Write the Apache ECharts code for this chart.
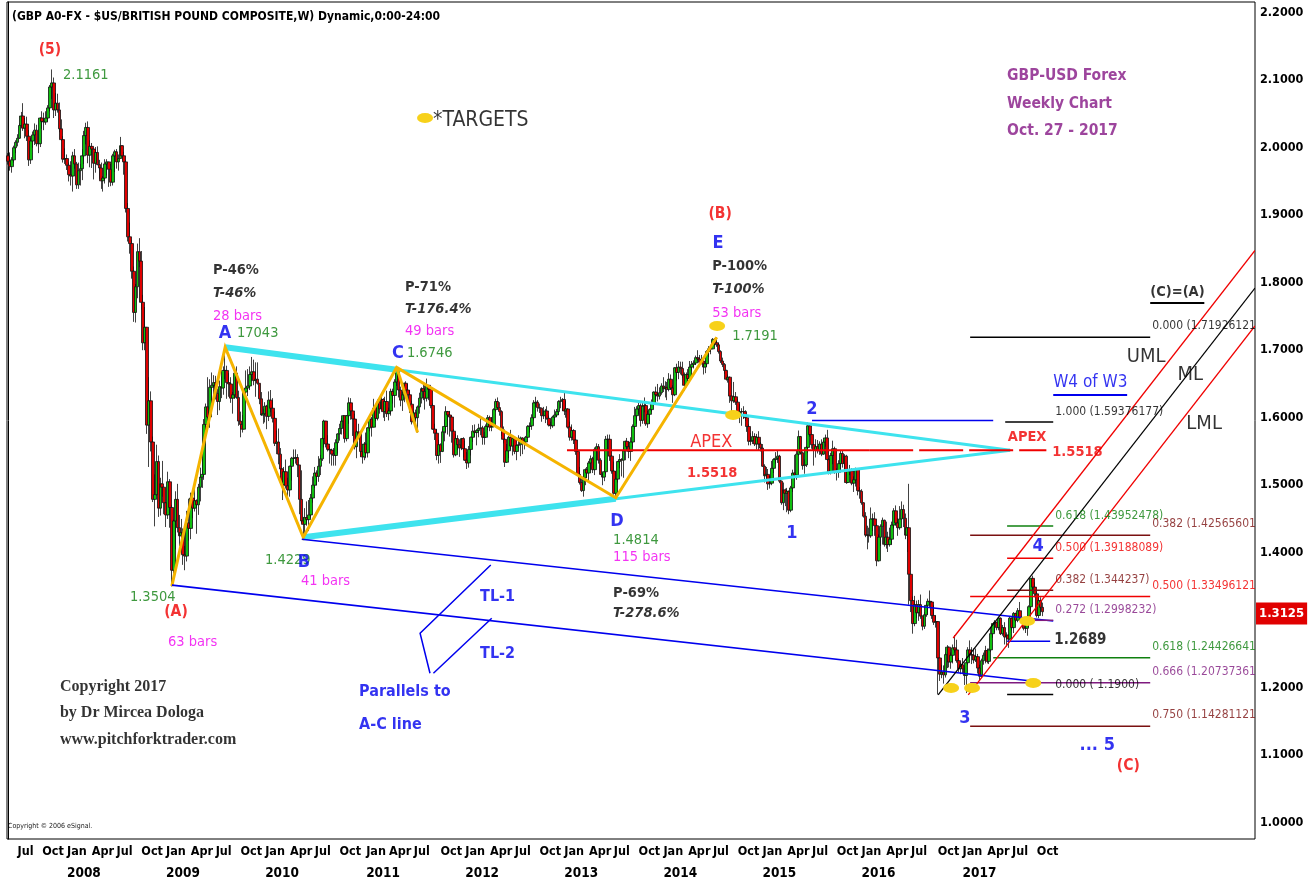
<!DOCTYPE html>
<html>
<head>
<meta charset="utf-8">
<script src="https://cdn.jsdelivr.net/npm/echarts@6/dist/echarts.min.js"></script>
<style>
html, body { margin: 0; padding: 0; background: #fff; }
#main { width: 1308px; height: 884px; }
</style>
</head>
<body>
<div id="main"></div>
<script>
// weekly GBP/USD bars: [close, high, low], open = previous close
var firstOpen = 1.988;
var wk2007 = [
 [1.980,1.992,1.975],[1.972,1.993,1.966],[1.982,1.986,1.963],[2.000,2.003,1.978],[2.008,2.011,1.992],
 [2.014,2.020,2.002],[2.033,2.036,2.013],[2.047,2.053,2.030],[2.029,2.066,2.025],
 [2.035,2.044,2.014],[2.017,2.046,2.010],[1.982,2.026,1.973],[2.010,2.014,1.976],[2.019,2.024,2.000],
 [2.026,2.036,2.004],[2.006,2.034,2.002],[2.006,2.027,1.992],[2.044,2.045,2.001],
 [2.039,2.054,2.028],[2.038,2.052,2.026],[2.044,2.054,2.034],[2.059,2.063,2.039],
 [2.090,2.093,2.054],[2.096,2.116,2.072],[2.056,2.104,2.044],[2.066,2.081,2.047],[2.056,2.080,2.052],
 [2.028,2.067,2.023],[2.012,2.042,2.010],[1.983,2.017,1.978],[1.984,1.999,1.976]
];
var wk2008 = [
 [1.974,1.990,1.967],[1.960,1.978,1.950],[1.958,1.980,1.944],[1.988,1.994,1.935],
 [1.976,1.998,1.969],[1.945,1.979,1.939],[1.966,1.978,1.939],[1.969,1.976,1.944],[1.988,1.998,1.952],
 [2.018,2.025,1.976],[2.030,2.037,2.005],[1.989,2.039,1.977],[2.002,2.011,1.971],
 [1.998,2.007,1.970],[1.977,1.993,1.953],[1.993,2.001,1.963],[1.975,2.002,1.974],
 [1.970,1.982,1.954],[1.951,1.978,1.939],[1.955,1.958,1.935],[1.976,1.983,1.947],[1.979,1.983,1.959],
 [1.968,1.976,1.942],[1.949,1.976,1.943],[1.988,1.991,1.944],[1.994,1.997,1.964],
 [1.979,1.998,1.969],[1.984,1.990,1.966],[2.003,2.016,1.984],[1.988,2.004,1.981],
 [1.979,1.994,1.960],[1.910,1.982,1.904],[1.868,1.918,1.861],[1.858,1.889,1.843],[1.817,1.863,1.806],
 [1.756,1.824,1.742],[1.794,1.798,1.741],[1.846,1.858,1.777],[1.832,1.866,1.823],
 [1.771,1.847,1.760],[1.711,1.782,1.700],[1.734,1.764,1.700],[1.589,1.731,1.576],[1.625,1.660,1.527],
 [1.564,1.639,1.550],[1.479,1.572,1.475],[1.486,1.516,1.439],[1.535,1.560,1.485],
 [1.466,1.544,1.453],[1.502,1.511,1.455],[1.497,1.536,1.483],[1.474,1.495,1.457]
];
var wk2009 = [
 [1.456,1.475,1.438],[1.505,1.520,1.450],[1.467,1.509,1.437],[1.374,1.471,1.350],[1.447,1.449,1.369],
 [1.479,1.491,1.405],[1.437,1.502,1.430],[1.425,1.456,1.410],[1.430,1.450,1.403],
 [1.397,1.436,1.382],[1.395,1.410,1.374],[1.444,1.462,1.387],[1.436,1.480,1.418],
 [1.481,1.489,1.420],[1.466,1.486,1.451],[1.477,1.508,1.461],[1.471,1.479,1.428],
 [1.497,1.502,1.456],[1.512,1.526,1.476],[1.516,1.539,1.496],[1.590,1.598,1.508],[1.616,1.621,1.573],
 [1.601,1.660,1.590],[1.645,1.657,1.585],[1.648,1.667,1.617],[1.652,1.663,1.623],
 [1.636,1.662,1.627],[1.624,1.643,1.604],[1.646,1.655,1.611],[1.644,1.661,1.629],[1.670,1.676,1.634],
 [1.670,1.704,1.657],[1.652,1.677,1.628],[1.650,1.666,1.631],[1.629,1.660,1.622],
 [1.634,1.638,1.606],[1.666,1.672,1.628],[1.630,1.676,1.628],[1.595,1.640,1.588],
 [1.590,1.609,1.571],[1.583,1.604,1.578],[1.638,1.640,1.583],[1.644,1.670,1.635],[1.647,1.672,1.632],
 [1.664,1.676,1.641],[1.668,1.690,1.654],[1.655,1.686,1.648],[1.657,1.682,1.631],
 [1.651,1.682,1.649],[1.628,1.650,1.620],[1.604,1.638,1.603],[1.606,1.613,1.591]
];
var wk2010 = [
 [1.617,1.623,1.593],[1.602,1.619,1.583],[1.626,1.639,1.595],[1.614,1.641,1.608],[1.599,1.629,1.593],
 [1.562,1.609,1.558],[1.564,1.581,1.546],[1.546,1.584,1.531],[1.524,1.555,1.516],
 [1.501,1.525,1.478],[1.520,1.527,1.490],[1.499,1.538,1.495],[1.493,1.511,1.483],
 [1.528,1.529,1.483],[1.540,1.542,1.507],[1.540,1.553,1.531],[1.541,1.553,1.532],[1.530,1.546,1.512],
 [1.479,1.530,1.457],[1.447,1.522,1.444],[1.442,1.453,1.423],[1.452,1.466,1.425],
 [1.449,1.476,1.440],[1.456,1.478,1.432],[1.481,1.487,1.452],[1.500,1.513,1.474],
 [1.518,1.527,1.496],[1.513,1.522,1.500],[1.528,1.543,1.505],[1.539,1.545,1.515],[1.569,1.571,1.536],
 [1.595,1.597,1.556],[1.561,1.594,1.556],[1.553,1.574,1.550],[1.552,1.558,1.532],
 [1.546,1.554,1.529],[1.544,1.555,1.529],[1.563,1.568,1.529],[1.576,1.577,1.547],
 [1.584,1.591,1.566],[1.595,1.600,1.575],[1.603,1.604,1.576],[1.569,1.600,1.563],[1.603,1.604,1.565],
 [1.622,1.630,1.591],[1.610,1.629,1.597],[1.598,1.610,1.573],[1.557,1.606,1.553],
 [1.579,1.581,1.540],[1.577,1.591,1.569],[1.550,1.578,1.542],[1.542,1.551,1.532],[1.561,1.564,1.537]
];
var wk2011 = [
 [1.548,1.578,1.540],[1.585,1.586,1.541],[1.598,1.604,1.580],[1.586,1.601,1.572],
 [1.614,1.628,1.586],[1.599,1.616,1.595],[1.623,1.627,1.596],[1.613,1.628,1.606],
 [1.627,1.635,1.612],[1.609,1.629,1.600],[1.624,1.631,1.595],[1.606,1.640,1.601],
 [1.610,1.615,1.596],[1.639,1.643,1.603],[1.633,1.643,1.621],[1.653,1.657,1.615],[1.669,1.675,1.647],
 [1.641,1.673,1.630],[1.626,1.646,1.617],[1.634,1.638,1.610],[1.651,1.652,1.623],
 [1.641,1.654,1.632],[1.634,1.650,1.627],[1.620,1.641,1.607],[1.594,1.625,1.590],
 [1.607,1.610,1.594],[1.600,1.612,1.593],[1.616,1.618,1.578],[1.629,1.637,1.606],[1.643,1.645,1.621],
 [1.639,1.651,1.626],[1.629,1.648,1.612],[1.648,1.658,1.624],[1.642,1.648,1.626],
 [1.618,1.642,1.614],[1.583,1.621,1.582],[1.577,1.591,1.567],[1.544,1.583,1.537],[1.560,1.567,1.532],
 [1.550,1.562,1.533],[1.579,1.584,1.549],[1.587,1.597,1.565],[1.609,1.617,1.577],
 [1.604,1.610,1.575],[1.601,1.610,1.572],[1.580,1.603,1.563],[1.545,1.583,1.541],
 [1.569,1.576,1.543],[1.560,1.574,1.552],[1.555,1.568,1.542],[1.569,1.570,1.552],[1.554,1.571,1.541]
];
var wk2012 = [
 [1.537,1.566,1.536],[1.533,1.549,1.524],[1.553,1.558,1.526],[1.571,1.572,1.544],
 [1.580,1.589,1.564],[1.578,1.590,1.572],[1.581,1.583,1.559],[1.584,1.591,1.571],
 [1.585,1.600,1.574],[1.571,1.588,1.560],[1.571,1.579,1.560],[1.587,1.590,1.570],[1.600,1.604,1.582],
 [1.586,1.603,1.580],[1.587,1.601,1.580],[1.612,1.614,1.587],[1.624,1.628,1.609],
 [1.615,1.630,1.612],[1.609,1.623,1.603],[1.582,1.611,1.573],[1.568,1.587,1.562],
 [1.534,1.569,1.527],[1.551,1.561,1.533],[1.571,1.573,1.540],[1.558,1.582,1.553],[1.569,1.572,1.544],
 [1.550,1.572,1.546],[1.559,1.560,1.537],[1.560,1.574,1.555],[1.570,1.572,1.543],
 [1.563,1.571,1.546],[1.564,1.569,1.553],[1.571,1.573,1.561],[1.587,1.589,1.570],[1.588,1.593,1.578],
 [1.600,1.605,1.582],[1.622,1.626,1.596],[1.623,1.631,1.616],[1.615,1.626,1.609],
 [1.614,1.621,1.607],[1.603,1.615,1.594],[1.603,1.616,1.598],[1.610,1.613,1.592],
 [1.599,1.617,1.597],[1.589,1.603,1.587],[1.588,1.594,1.583],[1.601,1.603,1.585],[1.604,1.612,1.596],
 [1.609,1.613,1.601],[1.624,1.626,1.604],[1.625,1.631,1.614],[1.627,1.629,1.610]
];
var wk2013 = [
 [1.610,1.638,1.604],[1.613,1.625,1.600],[1.586,1.614,1.584],[1.571,1.594,1.566],
 [1.581,1.590,1.566],[1.567,1.583,1.561],[1.550,1.568,1.545],[1.516,1.553,1.514],
 [1.504,1.527,1.501],[1.492,1.512,1.490],[1.511,1.513,1.483],[1.523,1.525,1.500],[1.518,1.527,1.511],
 [1.533,1.536,1.504],[1.539,1.544,1.522],[1.523,1.542,1.518],[1.553,1.556,1.515],
 [1.557,1.562,1.537],[1.537,1.561,1.532],[1.516,1.540,1.515],[1.512,1.518,1.500],[1.520,1.537,1.506],
 [1.568,1.573,1.516],[1.568,1.575,1.551],[1.543,1.575,1.536],[1.521,1.545,1.517],
 [1.488,1.535,1.486],[1.509,1.521,1.481],[1.535,1.536,1.504],[1.538,1.546,1.525],
 [1.537,1.540,1.513],[1.551,1.556,1.511],[1.565,1.566,1.537],[1.557,1.570,1.550],[1.550,1.565,1.540],
 [1.564,1.571,1.536],[1.587,1.590,1.556],[1.603,1.616,1.583],[1.613,1.617,1.591],
 [1.618,1.626,1.605],[1.596,1.621,1.587],[1.617,1.624,1.591],[1.618,1.630,1.608],
 [1.591,1.621,1.588],[1.605,1.610,1.585],[1.612,1.614,1.591],[1.622,1.627,1.609],[1.638,1.639,1.619],
 [1.634,1.646,1.626],[1.632,1.650,1.624],[1.637,1.645,1.627],[1.647,1.651,1.634]
];
var wk2014 = [
 [1.643,1.660,1.638],[1.645,1.654,1.630],[1.642,1.653,1.626],[1.657,1.666,1.639],[1.644,1.664,1.641],
 [1.634,1.648,1.622],[1.674,1.675,1.632],[1.667,1.680,1.655],[1.675,1.684,1.657],
 [1.673,1.683,1.664],[1.663,1.683,1.659],[1.648,1.667,1.640],[1.664,1.667,1.645],
 [1.658,1.672,1.654],[1.675,1.684,1.655],[1.679,1.684,1.670],[1.681,1.685,1.673],
 [1.689,1.692,1.678],[1.687,1.700,1.685],[1.682,1.693,1.675],[1.684,1.693,1.679],[1.675,1.686,1.664],
 [1.680,1.685,1.666],[1.698,1.700,1.675],[1.702,1.706,1.690],[1.702,1.708,1.694],
 [1.716,1.718,1.702],[1.711,1.718,1.707],[1.708,1.719,1.705],[1.698,1.711,1.695],
 [1.684,1.700,1.681],[1.679,1.689,1.675],[1.670,1.681,1.665],[1.657,1.671,1.655],[1.660,1.664,1.652],
 [1.632,1.661,1.622],[1.625,1.628,1.605],[1.631,1.653,1.622],[1.623,1.638,1.619],
 [1.603,1.628,1.600],[1.609,1.620,1.592],[1.609,1.614,1.588],[1.609,1.617,1.598],[1.600,1.611,1.595],
 [1.587,1.602,1.579],[1.565,1.590,1.559],[1.566,1.577,1.559],[1.572,1.580,1.561],
 [1.561,1.577,1.558],[1.571,1.576,1.553],[1.561,1.580,1.551],[1.555,1.564,1.550]
];
var wk2015 = [
 [1.528,1.561,1.527],[1.514,1.531,1.504],[1.516,1.527,1.509],[1.502,1.524,1.493],[1.503,1.514,1.495],
 [1.525,1.536,1.500],[1.538,1.540,1.518],[1.540,1.549,1.532],[1.543,1.552,1.533],
 [1.506,1.545,1.503],[1.474,1.507,1.471],[1.493,1.504,1.463],[1.488,1.495,1.469],
 [1.491,1.496,1.460],[1.463,1.492,1.457],[1.496,1.499,1.460],[1.518,1.523,1.490],
 [1.515,1.545,1.509],[1.546,1.552,1.508],[1.572,1.581,1.544],[1.548,1.573,1.546],[1.529,1.550,1.523],
 [1.530,1.538,1.517],[1.556,1.558,1.527],[1.588,1.593,1.548],[1.575,1.591,1.572],
 [1.560,1.576,1.554],[1.552,1.561,1.529],[1.557,1.568,1.541],[1.551,1.567,1.547],[1.561,1.565,1.545],
 [1.546,1.568,1.543],[1.564,1.567,1.545],[1.570,1.575,1.557],[1.538,1.582,1.536],
 [1.519,1.540,1.516],[1.544,1.548,1.516],[1.554,1.566,1.531],[1.520,1.557,1.517],
 [1.519,1.525,1.507],[1.532,1.537,1.511],[1.547,1.551,1.521],[1.532,1.551,1.526],[1.543,1.546,1.522],
 [1.504,1.545,1.502],[1.521,1.525,1.503],[1.521,1.530,1.515],[1.503,1.525,1.500],
 [1.508,1.513,1.490],[1.523,1.526,1.498],[1.492,1.523,1.485],[1.491,1.497,1.480]
];
var wk2016 = [
 [1.474,1.494,1.471],[1.454,1.475,1.452],[1.426,1.460,1.423],[1.426,1.440,1.405],[1.425,1.437,1.415],
 [1.450,1.467,1.422],[1.450,1.458,1.432],[1.440,1.460,1.425],[1.388,1.442,1.380],
 [1.423,1.427,1.387],[1.439,1.442,1.410],[1.448,1.452,1.412],[1.412,1.449,1.409],
 [1.423,1.446,1.406],[1.412,1.431,1.401],[1.420,1.437,1.409],[1.441,1.446,1.412],[1.462,1.466,1.436],
 [1.444,1.470,1.440],[1.437,1.451,1.425],[1.450,1.469,1.434],[1.464,1.476,1.451],
 [1.451,1.471,1.438],[1.426,1.458,1.420],[1.437,1.438,1.401],[1.368,1.502,1.323],
 [1.329,1.356,1.312],[1.295,1.335,1.280],[1.323,1.336,1.291],[1.311,1.329,1.303],[1.323,1.330,1.299],
 [1.306,1.338,1.302],[1.291,1.307,1.285],[1.308,1.312,1.287],[1.322,1.326,1.305],
 [1.328,1.332,1.308],[1.327,1.344,1.319],[1.307,1.328,1.302],[1.297,1.322,1.293],[1.298,1.307,1.289],
 [1.244,1.292,1.190],[1.220,1.237,1.210],[1.223,1.234,1.214],[1.219,1.233,1.206],
 [1.249,1.252,1.215],[1.260,1.263,1.229],[1.238,1.261,1.230],[1.248,1.252,1.228],
 [1.259,1.264,1.236],[1.256,1.278,1.252],[1.240,1.271,1.237],[1.228,1.244,1.223],[1.234,1.237,1.220]
];
var wk2017 = [
 [1.228,1.244,1.220],[1.218,1.233,1.204],[1.237,1.245,1.192],[1.256,1.260,1.234],
 [1.249,1.270,1.244],[1.248,1.260,1.235],[1.241,1.258,1.236],[1.246,1.258,1.238],
 [1.229,1.250,1.221],[1.217,1.234,1.211],[1.240,1.243,1.215],[1.248,1.252,1.234],[1.255,1.262,1.236],
 [1.239,1.258,1.236],[1.256,1.258,1.235],[1.280,1.290,1.253],[1.295,1.295,1.274],
 [1.297,1.300,1.282],[1.289,1.297,1.285],[1.303,1.305,1.285],[1.280,1.304,1.278],
 [1.289,1.293,1.277],[1.275,1.297,1.264],[1.278,1.282,1.261],[1.272,1.279,1.259],[1.303,1.305,1.271],
 [1.289,1.304,1.285],[1.310,1.312,1.281],[1.300,1.311,1.297],[1.314,1.318,1.297],
 [1.304,1.327,1.303],[1.301,1.305,1.295],[1.288,1.302,1.285],[1.288,1.291,1.281],
 [1.296,1.298,1.277],[1.320,1.322,1.290],[1.362,1.362,1.313],[1.349,1.366,1.343],[1.339,1.356,1.334],
 [1.307,1.342,1.304],[1.329,1.334,1.303],[1.319,1.334,1.312],[1.3125,1.326,1.306]
];

// swing points (week index, price): (A), A, B, C, D, E
var swingIdx = [86, 114, 155, 204, 319, 372];
var swingPrice = [1.3504, 1.7043, 1.4229, 1.6746, 1.4814, 1.7191];
var apexIdx = 526, apexPrice = 1.5518;

// fibonacci levels
var fibNearRatio = ['1.000', '0.618', '0.500', '0.382', '0.272', '0.000'];
var fibNearPrice = ['1.59376177', '1.43952478', '1.39188089', '1.344237', '1.2998232', ' 1.1900'];
var fibFarRatio = ['0.000', '0.382', '0.500', '0.618', '0.666', '0.750'];
var fibFarPrice = ['1.71926121', '1.42565601', '1.33496121', '1.24426641', '1.20737361', '1.14281121'];

var yTicks = [1.0, 1.1, 1.2, 1.3, 1.4, 1.5, 1.6, 1.7, 1.8, 1.9, 2.0, 2.1, 2.2];

var NARROW = "'DejaVu Sans Condensed','Liberation Sans',sans-serif";
var SERIF = "'Liberation Serif','Times New Roman',serif";
var RED = '#F00000', BLUE = '#0000EE', GREEN = '#0F800F', MAG = '#F000F0', DRED = '#7A1010', PURP = '#7F1A7F';

var bars = [].concat(wk2007, wk2008, wk2009, wk2010, wk2011, wk2012, wk2013, wk2014, wk2015, wk2016, wk2017);
var nBars = bars.length;
var nSlots = 655; // axis also has empty weeks to the right
var candles = [];
var prev = firstOpen;
for (var i = 0; i < nBars; i++) {
    var c = bars[i][0];
    candles.push([i, prev, c, Math.min(bars[i][2], prev, c), Math.max(bars[i][1], prev, c)]);
    prev = c;
}
var lastClose = bars[nBars - 1][0];

// quarter labels at the first week of Jan/Apr/Jul/Oct
var MONTHS = ['Jan','Feb','Mar','Apr','May','Jun','Jul','Aug','Sep','Oct','Nov','Dec'];
var startMs = Date.UTC(2007, 4, 28);
var monthTicks = [], monthText = {}, yearTicks = [], yearText = {};
var prevMonth = -1;
for (var k = 0; k < nBars; k++) {
    var d = new Date(startMs + (k * 7 + 4) * 86400000);
    var m = d.getUTCMonth();
    if (prevMonth !== -1 && m !== prevMonth && m % 3 === 0) {
        monthTicks.push(k); monthText[k] = MONTHS[m];
        if (m === 0) { yearTicks.push(k); yearText[k] = String(d.getUTCFullYear()); }
    }
    prevMonth = m;
}

// lines
function seg(pts, color, width, type) {
    return { coords: pts, lineStyle: { color: color, width: width, type: type || 'solid' } };
}
var lineData = [];
// cyan triangle
var upC = swingPrice[1] + (apexPrice - swingPrice[1]) * (swingIdx[3] - swingIdx[1]) / (apexIdx - swingIdx[1]);
var loD = swingPrice[2] + (apexPrice - swingPrice[2]) * (swingIdx[4] - swingIdx[2]) / (apexIdx - swingIdx[2]);
lineData.push(seg([[swingIdx[1], swingPrice[1]], [apexIdx, apexPrice]], '#3EE3EE', 3));
lineData.push(seg([[swingIdx[1], swingPrice[1]], [swingIdx[3], upC]], '#3EE3EE', 6));
lineData.push(seg([[swingIdx[2], swingPrice[2]], [apexIdx, apexPrice]], '#3EE3EE', 3));
lineData.push(seg([[swingIdx[2], swingPrice[2]], [swingIdx[4], loD]], '#3EE3EE', 6));
// apex level
lineData.push(seg([[293.4, apexPrice], [452, apexPrice]], RED, 2));
lineData.push(seg([[452, apexPrice], [545, apexPrice]], RED, 2, [44, 6]));
// orange zigzag
var zz = [];
for (var z = 0; z < swingIdx.length; z++) zz.push([swingIdx[z], swingPrice[z]]);
lineData.push(seg(zz, '#F5B400', 3));
lineData.push(seg([[swingIdx[3], swingPrice[3]], [215, 1.578]], '#F5B400', 3));
// trend lines TL-1, TL-2 and bracket
lineData.push(seg([[154.2, 1.4199], [548.6, 1.2988]], BLUE, 1.6));
lineData.push(seg([[86.1, 1.352], [541.9, 1.2084]], BLUE, 1.6));
lineData.push(seg([[253.4, 1.3818], [216.3, 1.2806], [221.5, 1.2213]], BLUE, 1.5));
lineData.push(seg([[223.3, 1.2213], [253.9, 1.3028]], BLUE, 1.5));
// wave 2 level, 1.2689 level
lineData.push(seg([[422, 1.596], [517.1, 1.596]], BLUE, 1.5));
lineData.push(seg([[524.4, 1.2689], [547.0, 1.2689]], BLUE, 1.5));
// fib lines
var fibNearColor = ['#000', GREEN, RED, DRED, PURP, '#000'];
var fibNearFrom = [523.4, 524.4, 524.4, 524.4, 536.5, 524.4];
var fibFarColor = ['#000', DRED, RED, GREEN, PURP, DRED];
var fibFarFrom = [505, 505, 505, 517.1, 505, 505];
for (var f = 0; f < 6; f++) {
    lineData.push(seg([[fibNearFrom[f], parseFloat(fibNearPrice[f])], [548.6, parseFloat(fibNearPrice[f])]], fibNearColor[f], 1.5));
    lineData.push(seg([[fibFarFrom[f], parseFloat(fibFarPrice[f])], [599.5, parseFloat(fibFarPrice[f])]], fibFarColor[f], 1.5));
}
// pitchfork
lineData.push(seg([[488.2, 1.1892], [654.5, 1.7921]], '#000', 1.3));
lineData.push(seg([[496.1, 1.2736], [654.5, 1.8478]], RED, 1.3));
lineData.push(seg([[504.0, 1.1892], [654.5, 1.7359]], RED, 1.3));
// underlines
lineData.push(seg([[599.5, 1.7699], [627.9, 1.7699]], '#000', 2));
lineData.push(seg([[548.6, 1.6336], [587.4, 1.6336]], BLUE, 2));

// yellow target marks
var targets = [[218.9, 2.044], [372.2, 1.7359], [380.6, 1.604], [495.0, 1.1996], [506.0, 1.1996], [538.1, 1.207], [534.9, 1.2988]];

// text notes: [week index, price, text, style, align]
var ST = {
    wave: { color: RED, fontSize: 15.5, fontWeight: 'bold' },
    letter: { color: BLUE, fontSize: 18, fontWeight: 'bold' },
    green: { color: GREEN, fontSize: 14.5 },
    bars: { color: MAG, fontSize: 14.5 },
    pct: { color: '#000', fontSize: 14.5, fontWeight: 'bold' },
    pctI: { color: '#000', fontSize: 14.5, fontWeight: 'bold', fontStyle: 'italic' },
    apexThin: { color: RED, fontSize: 18 },
    redBold: { color: RED, fontSize: 14.5, fontWeight: 'bold' },
    tl: { color: BLUE, fontSize: 16, fontWeight: 'bold' },
    copy: { color: '#000', fontSize: 16, fontWeight: 'bold', fontFamily: SERIF },
    head: { color: '#851685', fontSize: 15.5, fontWeight: 'bold' },
    ca: { color: '#000', fontSize: 14.5, fontWeight: 'bold' },
    pf: { color: '#000', fontSize: 20 },
    w4: { color: BLUE, fontSize: 17 },
    lvl: { color: '#000', fontSize: 15, fontWeight: 'bold' },
    target: { color: '#000', fontSize: 21 }
};
var notes = [
    [22.0, 2.1447, '(5)', 'wave', 'center'],
    [28.9, 2.1077, '2.1161', 'green', 'left'],
    [223.1, 2.0396, '*TARGETS', 'target', 'left'],
    [524.4, 2.1062, 'GBP-USD Forex', 'head', 'left'],
    [524.4, 2.0647, 'Weekly Chart', 'head', 'left'],
    [524.4, 2.0247, 'Oct. 27 - 2017', 'head', 'left'],
    [107.6, 1.8188, 'P-46%', 'pct', 'left'],
    [107.6, 1.7847, 'T-46%', 'pctI', 'left'],
    [107.6, 1.7507, '28 bars', 'bars', 'left'],
    [113.9, 1.7255, 'A', 'letter', 'center'],
    [120.2, 1.7255, '17043', 'green', 'left'],
    [208.4, 1.7936, 'P-71%', 'pct', 'left'],
    [208.4, 1.7610, 'T-176.4%', 'pctI', 'left'],
    [208.4, 1.7284, '49 bars', 'bars', 'left'],
    [204.7, 1.6959, 'C', 'letter', 'center'],
    [209.4, 1.6959, '1.6746', 'green', 'left'],
    [373.8, 1.9018, '(B)', 'wave', 'center'],
    [372.7, 1.8588, 'E', 'letter', 'center'],
    [369.6, 1.8247, 'P-100%', 'pct', 'left'],
    [369.6, 1.7907, 'T-100%', 'pctI', 'left'],
    [369.6, 1.7551, '53 bars', 'bars', 'left'],
    [380.1, 1.7210, '1.7191', 'green', 'left'],
    [369.1, 1.5640, 'APEX', 'apexThin', 'center'],
    [369.6, 1.5181, '1.5518', 'redBold', 'center'],
    [422.0, 1.6129, '2', 'letter', 'center'],
    [411.5, 1.4292, '1', 'letter', 'center'],
    [319.7, 1.4470, 'D', 'letter', 'center'],
    [317.6, 1.4188, '1.4814', 'green', 'left'],
    [317.6, 1.3936, '115 bars', 'bars', 'left'],
    [317.6, 1.3403, 'P-69%', 'pct', 'left'],
    [317.6, 1.3107, 'T-278.6%', 'pctI', 'left'],
    [134.9, 1.3892, '1.4229', 'green', 'left'],
    [155.4, 1.3862, 'B', 'letter', 'center'],
    [153.8, 1.3581, '41 bars', 'bars', 'left'],
    [64.0, 1.3344, '1.3504', 'green', 'left'],
    [88.2, 1.3121, '(A)', 'wave', 'center'],
    [84.0, 1.2677, '63 bars', 'bars', 'left'],
    [247.8, 1.3344, 'TL-1', 'tl', 'left'],
    [247.8, 1.2499, 'TL-2', 'tl', 'left'],
    [184.3, 1.1936, 'Parallels to', 'tl', 'left'],
    [184.3, 1.1447, 'A-C line', 'tl', 'left'],
    [27.3, 1.2010, 'Copyright 2017', 'copy', 'left'],
    [27.3, 1.1625, 'by Dr Mircea Dologa', 'copy', 'left'],
    [27.3, 1.1225, 'www.pitchforktrader.com', 'copy', 'left'],
    [599.5, 1.7862, '(C)=(A)', 'ca', 'left'],
    [597.4, 1.6899, 'UML', 'pf', 'center'],
    [620.5, 1.6633, 'ML', 'pf', 'center'],
    [627.8, 1.5907, 'LML', 'pf', 'center'],
    [548.6, 1.6514, 'W4 of W3', 'w4', 'left'],
    [534.9, 1.5714, 'APEX', 'redBold', 'center'],
    [548.1, 1.5492, '1.5518', 'redBold', 'left'],
    [540.7, 1.4099, '4', 'letter', 'center'],
    [549.2, 1.2707, '1.2689', 'lvl', 'left'],
    [502.3, 1.1551, '3', 'letter', 'center'],
    [571.7, 1.1151, '... 5', 'letter', 'center'],
    [588.0, 1.0840, '(C)', 'wave', 'center']
];
var noteData = notes.map(function (n) {
    var s = ST[n[3]];
    return {
        value: [n[0], n[1]],
        label: {
            show: true, position: 'inside', formatter: n[2], align: n[4], verticalAlign: 'middle',
            color: s.color, fontSize: s.fontSize, fontWeight: s.fontWeight || 'normal',
            fontStyle: s.fontStyle || 'normal', fontFamily: s.fontFamily || NARROW
        }
    };
});
// fib labels sit just above the right end of their line
for (var g = 0; g < 6; g++) {
    noteData.push({
        value: [548.6, parseFloat(fibNearPrice[g])],
        label: { show: true, position: 'inside', align: 'left', verticalAlign: 'middle', offset: [2, -10],
            formatter: fibNearRatio[g] + ' (' + fibNearPrice[g] + ')', color: fibNearColor[g], fontSize: 12, fontFamily: NARROW }
    });
    noteData.push({
        value: [599.5, parseFloat(fibFarPrice[g])],
        label: { show: true, position: 'inside', align: 'left', verticalAlign: 'middle', offset: [2, -11],
            formatter: fibFarRatio[g] + ' (' + fibFarPrice[g], color: fibFarColor[g], fontSize: 12, fontFamily: NARROW }
    });
}

var myChart = echarts.init(document.getElementById('main'));
var option = {
    animation: false,
    backgroundColor: '#fff',
    title: {
        text: '(GBP A0-FX - $US/BRITISH POUND COMPOSITE,W) Dynamic,0:00-24:00',
        left: 7, top: 6,
        textStyle: { fontFamily: NARROW, fontSize: 12, fontWeight: 'bold', color: '#000' }
    },
    grid: { left: 7, right: 53, top: 2, bottom: 45, show: true, borderColor: '#000', borderWidth: 1, backgroundColor: '#fff', outerBoundsMode: 'none' },
    xAxis: [{
        type: 'value', min: -0.5, max: nSlots - 0.5, position: 'bottom',
        axisLine: { show: false }, axisTick: { show: false }, splitLine: { show: false },
        axisLabel: {
            customValues: monthTicks, hideOverlap: false,
            formatter: function (v) { return monthText[Math.round(v)] || ''; },
            align: 'left', margin: 6, color: '#000', fontSize: 12.5, fontWeight: 'bold', fontFamily: NARROW
        }
    }, {
        type: 'value', min: -0.5, max: nSlots - 0.5, position: 'bottom', offset: 22,
        axisLine: { show: false }, axisTick: { show: false }, splitLine: { show: false },
        axisLabel: {
            customValues: yearTicks, hideOverlap: false,
            formatter: function (v) { return yearText[Math.round(v)] || ''; },
            align: 'left', margin: 5, color: '#000', fontSize: 13.5, fontWeight: 'bold', fontFamily: NARROW
        }
    }],
    yAxis: {
        type: 'value', position: 'right', min: 0.9758, max: 2.2159, scale: true,
        axisLine: { show: true, lineStyle: { color: '#000', width: 1 } },
        axisTick: { show: false }, splitLine: { show: false },
        axisLabel: {
            customValues: yTicks, hideOverlap: false,
            formatter: function (v) { return v.toFixed(4); },
            margin: 5, color: '#000', fontSize: 12.5, fontWeight: 'bold', fontFamily: NARROW
        }
    },
    graphic: [{
        type: 'text', left: 8, top: 823,
        style: { text: 'Copyright \u00a9 2006 eSignal.', fontSize: 7, fill: '#222', fontFamily: NARROW }
    }],
    series: [{
        type: 'candlestick',
        data: candles,
        barWidth: 3.2,
        z: 2,
        itemStyle: { color: '#10C010', color0: '#E00000', borderColor: '#111', borderColor0: '#111', borderWidth: 0.8 },
        markLine: {
            silent: true, symbol: ['none', 'none'],
            lineStyle: { color: 'rgba(0,0,0,0)', width: 0, opacity: 1 },
            data: [{ yAxis: lastClose }],
            label: {
                show: true, position: 'end', distance: 1, opacity: 1,
                formatter: lastClose.toFixed(4),
                color: '#fff', backgroundColor: '#E00000', padding: [5, 3, 4, 3],
                fontSize: 13, fontWeight: 'bold', fontFamily: NARROW
            }
        }
    }, {
        type: 'lines',
        coordinateSystem: 'cartesian2d',
        polyline: true,
        silent: true,
        z: 3,
        lineStyle: { opacity: 1, curveness: 0 },
        data: lineData
    }, {
        type: 'scatter',
        silent: true,
        z: 4,
        symbol: 'circle',
        symbolSize: [16, 10],
        itemStyle: { color: '#F7D11A', opacity: 1 },
        data: targets
    }, {
        type: 'scatter',
        silent: true,
        z: 5,
        symbolSize: 0,
        data: noteData
    }]
};
myChart.setOption(option);
</script>
</body>
</html>
